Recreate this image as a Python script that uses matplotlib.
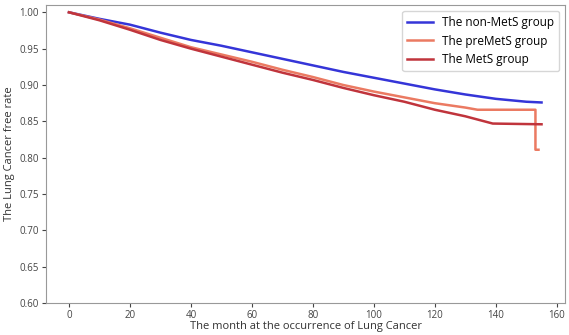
import matplotlib.pyplot as plt

plt.rcParams['font.family'] = ['Open Sans', 'DejaVu Sans']

months = [0, 10, 20, 30, 40, 50, 60, 70, 80, 90, 100, 110, 120, 130, 140, 150, 155]
non_mets = [1.0, 0.991, 0.983, 0.972, 0.962, 0.954, 0.945, 0.936, 0.927, 0.918,
            0.910, 0.902, 0.894, 0.887, 0.881, 0.877, 0.876]
months_pre = [0, 10, 20, 30, 40, 50, 60, 70, 80, 90, 100, 110, 120, 130, 134, 153, 153, 154]
pre_mets = [1.0, 0.990, 0.978, 0.965, 0.952, 0.942, 0.932, 0.921, 0.911, 0.900,
            0.891, 0.883, 0.875, 0.869, 0.866, 0.866, 0.811, 0.811]
months_mets = [0, 10, 20, 30, 40, 50, 60, 70, 80, 90, 100, 110, 120, 130, 139, 155]
mets = [1.0, 0.989, 0.976, 0.962, 0.950, 0.939, 0.928, 0.917, 0.907, 0.896,
        0.886, 0.877, 0.866, 0.857, 0.847, 0.846]

fig = plt.figure(figsize=(5.69, 3.35), dpi=100)
ax = fig.add_axes([0.081, 0.095, 0.912, 0.89])

ax.plot(months, non_mets, color='#3535d8', lw=1.8, label='The non-MetS group')
ax.plot(months_pre, pre_mets, color='#eb7a62', lw=1.8, label='The preMetS group')
ax.plot(months_mets, mets, color='#c0343c', lw=1.8, label='The MetS group')

ax.set_xlim(-7.5, 162.7)
ax.set_ylim(0.6, 1.01)
ax.set_xticks(range(0, 161, 20))
ax.set_yticks([0.60, 0.65, 0.70, 0.75, 0.80, 0.85, 0.90, 0.95, 1.00])
ax.set_yticklabels(['0.60', '0.65', '0.70', '0.75', '0.80', '0.85', '0.90', '0.95', '1.00'])
ax.tick_params(labelsize=7, colors='#444444', length=3, pad=2)
for s in ax.spines.values():
    s.set_color('#999999')

ax.set_xlabel('The month at the occurrence of Lung Cancer', fontsize=8, color='#333333', labelpad=0)
ax.set_ylabel('The Lung Cancer free rate', fontsize=8, color='#333333', labelpad=3)
ax.legend(loc='upper right', fontsize=8.5, frameon=True, handlelength=2.2)

fig.savefig('out.png', dpi=100)
